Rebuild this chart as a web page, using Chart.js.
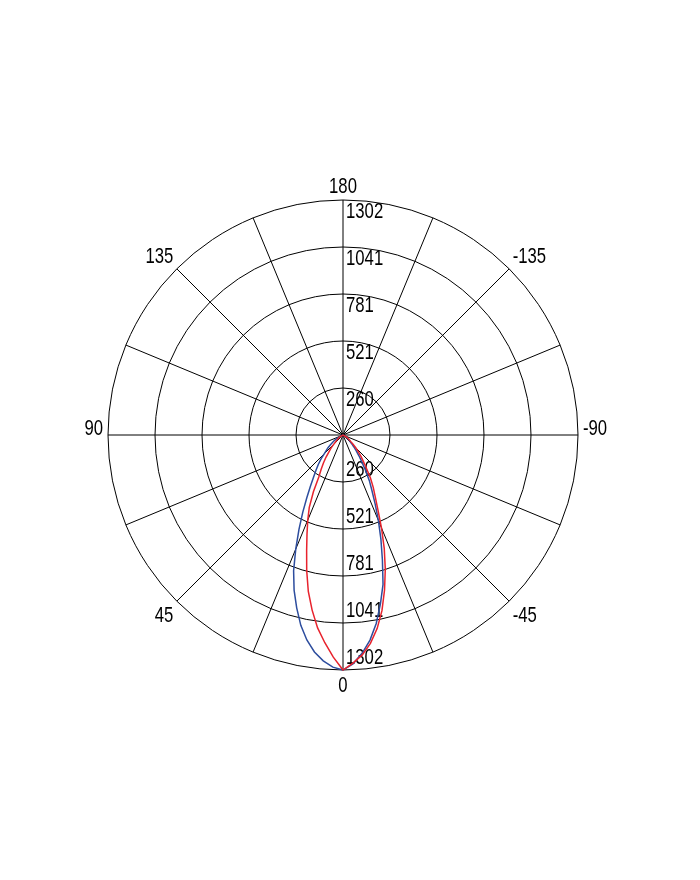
<!DOCTYPE html>
<html>
<head>
<meta charset="utf-8">
<script src="https://cdn.jsdelivr.net/npm/chart.js@4.4.1/dist/chart.umd.min.js"></script>
<style>
  html, body { margin: 0; padding: 0; background: #fff; }
  #wrap { width: 700px; height: 880px; }
</style>
</head>
<body>
<div id="wrap"><canvas id="chart"></canvas></div>
<script>
'use strict';

// radar categories every 2.5 deg, 0 = straight down, growing to the left
let angleStep = 2.5;
let angleLabels = [0, 45, 90, 135, 180, -135, -90, -45];

// gamma angles of the lobe (negative = right side), everything else is 0 cd
let lobeAngles = [
  -60, -57.5, -55, -52.5, -50, -47.5, -45, -42.5, -40, -37.5, -35, -32.5,
  -30, -27.5, -25, -22.5, -20, -17.5, -15, -12.5, -10, -7.5, -5, -2.5,
  0,
  2.5, 5, 7.5, 10, 12.5, 15, 17.5, 20, 22.5, 25, 27.5, 30,
  32.5, 35, 37.5, 40, 42.5, 45, 47.5, 50, 52.5, 55, 57.5, 60
];
let blueValues = [
  15, 19, 25, 32, 40, 52, 68, 88, 112, 145, 182, 233,
  292, 347, 422, 512, 614, 726, 857, 958, 1060, 1146, 1214, 1269,
  1302,
  1287, 1256, 1212, 1153, 1080, 991, 901, 800, 684, 577, 483, 401,
  336, 283, 245, 213, 180, 146, 124, 107, 86, 68, 55, 45
];
let redValues = [
  22, 28, 36, 45, 55, 74, 100, 126, 156, 186, 228, 283,
  335, 387, 458, 557, 668, 779, 889, 997, 1089, 1164, 1223, 1265,
  1302,
  1232, 1155, 1078, 985, 888, 777, 670, 583, 510, 442, 355, 268,
  225, 189, 154, 120, 97, 73, 55, 44, 36, 29, 22, 17
];

let ringMax = 1301.8;
let ringCount = 6;

// no narrow font installed, so text gets squeezed by hand
let fontSize = 22;
let fontCss = fontSize + 'px "Liberation Sans", Arial, sans-serif';
let squeeze = 0.76;
let capHeight = Math.round(fontSize * 0.72);

let categories = [];
for (let a = 0; a < 360; a += angleStep) {
  categories.push(a);
}

function buildSeries(values) {
  let out = categories.map(() => 0);
  for (let i = 0; i < lobeAngles.length; i++) {
    let a = (lobeAngles[i] + 360) % 360;
    out[Math.round(a / angleStep)] = values[i];
  }
  return out;
}

function narrowText(ctx, txt, x, y, align) {
  ctx.save();
  ctx.translate(x, y);
  ctx.scale(squeeze, 1);
  ctx.textAlign = align;
  ctx.fillText(txt, 0, 0);
  ctx.restore();
}

// ring values along the vertical axis + the angle labels round the rim
const labelPlugin = {
  id: 'polarLabels',
  beforeDatasetsDraw(chart) {
    let scale = chart.scales.r;
    let ctx = chart.ctx;
    let cx = scale.xCenter;
    let cy = scale.yCenter;
    ctx.save();
    ctx.font = fontCss;
    ctx.fillStyle = '#000';

    ctx.textBaseline = 'middle';
    scale.ticks.forEach((t) => {
      if (t.value <= 0) return;
      let d = scale.getDistanceFromCenterForValue(t.value);
      let txt = String(Math.round(t.value));
      narrowText(ctx, txt, cx + 3, cy - d + 12, 'left');
      narrowText(ctx, txt, cx + 3, cy + d - 12, 'left');
    });

    ctx.textBaseline = 'alphabetic';
    chart.data.labels.forEach((a, i) => {
      let shown = a > 180 ? a - 360 : a;
      if (!angleLabels.includes(shown)) return;
      let p = scale.getPointPosition(i, scale.drawingArea + 5);
      let align = 'center';
      if (p.x < cx - 1) align = 'right';
      if (p.x > cx + 1) align = 'left';
      let y = p.y;
      if (p.y < cy - 1) y = p.y - 2;
      if (p.y > cy + 1) y = p.y + capHeight + 1;
      narrowText(ctx, String(shown), p.x, y, align);
    });
    ctx.restore();
  }
};

let canvasElem = document.getElementById('chart');

new Chart(canvasElem, {
  type: 'radar',
  data: {
    labels: categories,
    datasets: [{
      label: 'C90-C270',
      data: buildSeries(redValues),
      borderColor: '#e8232d',
      borderWidth: 1.5,
      fill: false,
      pointRadius: 0
    },
    {
      label: 'C0-C180',
      data: buildSeries(blueValues),
      borderColor: '#2d4d9e',
      borderWidth: 1.5,
      fill: false,
      pointRadius: 0
    }]
  },
  options: {
    responsive: true,
    maintainAspectRatio: false,
    animation: false,
    layout: {
      padding: { top: 200, bottom: 210, left: 0, right: 14 }
    },
    plugins: {
      legend: { display: false },
      tooltip: { enabled: false }
    },
    scales: {
      r: {
        startAngle: 180,
        min: 0,
        max: ringMax,
        ticks: { display: false, count: ringCount },
        grid: { circular: true, color: '#000', lineWidth: 1 },
        angleLines: {
          color: (ctx) => (ctx.index % 9 === 0 ? '#000' : 'rgba(0,0,0,0)'),
          lineWidth: 1
        },
        pointLabels: { display: false }
      }
    }
  },
  plugins: [labelPlugin]
});
</script>
</body>
</html>
